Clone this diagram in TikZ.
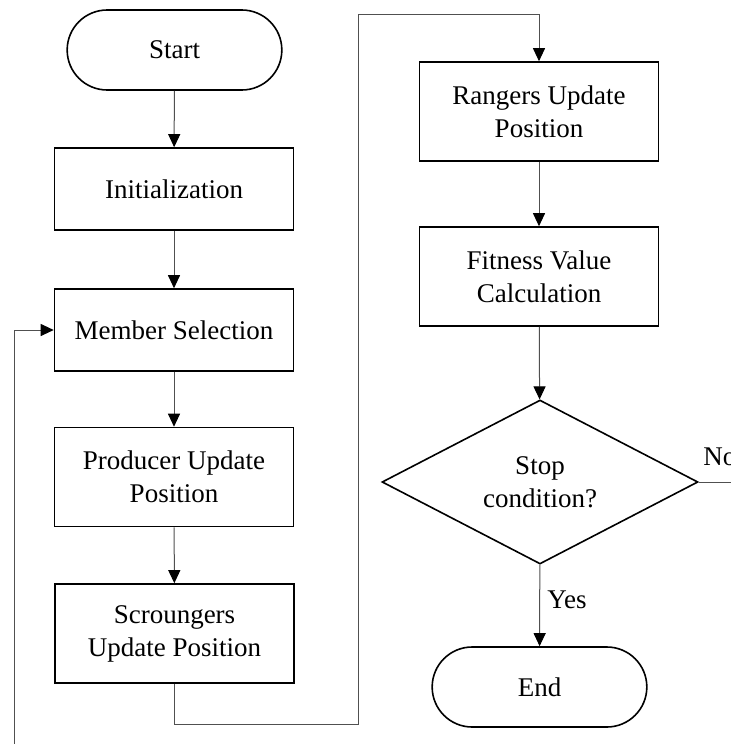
\documentclass[tikz,border=0pt]{standalone}
\usepackage{fontspec}
\setmainfont{Liberation Serif}
\usetikzlibrary{shapes.geometric,shapes.misc,arrows.meta}
\definecolor{linegray}{RGB}{80,80,80}

\tikzset{
	txt/.style={font=\fontsize{13.5}{16.5}\selectfont},
	box/.style={txt,draw,line width=0.8pt,rectangle,align=center,minimum width=119.5pt,minimum height=41pt},
	tallbox/.style={box,minimum height=49.5pt},
	term/.style={box,rounded rectangle,minimum width=114pt,minimum height=40pt},
	decide/.style={box,diamond,aspect=2,inner sep=0pt,minimum width=158pt,minimum height=82pt},
	flow/.style={draw=linegray,line width=0.5pt,-{Triangle[width=6pt,length=6.5pt,color=black]}},
}

\begin{document}
\begin{tikzpicture}[x=0.5pt,y=-0.5pt]
	\useasboundingbox (0,0) rectangle (731,744);
	\clip (0,0) rectangle (731,744);

	% left column
	\node[term] (st) at (174.5,50) {Start};
	\node[box] (init) at (174,189) {Initialization};
	\node[box] (sel) at (174,330) {Member Selection};
	\node[tallbox] (prod) at (174,477) {Producer Update\\Position};
	\node[tallbox] (scr) at (174.5,633.5) {Scroungers\\Update Position};

	% right column
	\node[tallbox] (rang) at (539,111.5) {Rangers Update\\Position};
	\node[tallbox] (fit) at (539,276.5) {Fitness Value\\Calculation};
	\node[decide] (stop) at (540,482) {Stop\\condition?};
	\node[term] (en) at (539.5,687) {End};

	\node[txt,anchor=base west,inner sep=0pt] (yes) at (547,608) {Yes};
	\node[txt,anchor=base west,inner sep=0pt] (no) at (703,465) {No};

	\coordinate (b1) at (358,724);
	\coordinate (b2) at (358,14);
	\coordinate (n1) at (780,482);
	\coordinate (n2) at (14,780);

	\draw[flow] (st) -- (init);
	\draw[flow] (init) -- (sel);
	\draw[flow] (sel) -- (prod);
	\draw[flow] (prod) -- (scr);
	\draw[flow] (scr.south) |- (b1) -- (b2) -| (rang.north);
	\draw[flow] (rang) -- (fit);
	\draw[flow] (fit) -- (stop);
	\draw[flow] (stop) -- (en);
	\draw[flow] (stop.east) -- (n1) |- (n2) |- (sel.west);
	%\draw[flow] (stop.south) -- (en.north);
\end{tikzpicture}
\end{document}
